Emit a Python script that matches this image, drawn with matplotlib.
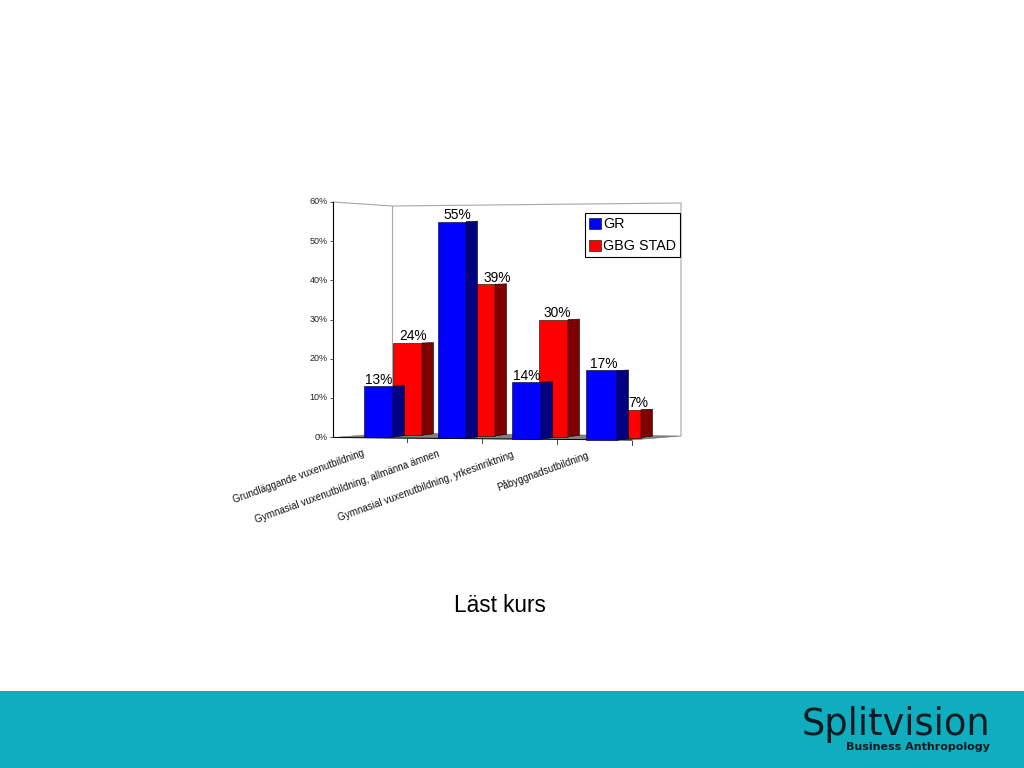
"""Grouped pseudo-3D bar chart on a slide with a teal footer and logo."""

import numpy as np
import matplotlib.pyplot as plt
from matplotlib.patches import Patch, Rectangle
from matplotlib.transforms import ScaledTranslation

plt.rcParams['font.family'] = ['Liberation Sans', 'DejaVu Sans']

categories = ['Grundläggande vuxenutbildning',
              'Gymnasial vuxenutbildning, allmänna ämnen',
              'Gymnasial vuxenutbildning, yrkesinriktning',
              'Påbyggnadsutbildning']
gr_values = [13, 55, 14, 17]
gbg_values = [24, 39, 30, 7]
y_ticks = [0, 10, 20, 30, 40, 50, 60]
series_names = ['GR', 'GBG STAD']
chart_title = 'Läst kurs'

W, H = 1024, 768
PX_PER_PCT = 235 / 60
PX_PER_CAT = 75
TICK_X0 = 407

# perspective: how far each bar foot sinks below the 0% line, in pixels
gr_drop = [0.0, 1.3, 2.0, 3.2]
gbg_drop = [-1.8, -1.2, -0.3, 0.5]
# front face widths grow a little towards the right, in pixels
gr_width = [29, 28, 29, 31]
gbg_width = [29, 29, 29, 29]
# label shift to the right of the front face centre, in pixels
gr_shift = [0.5, 5, 0, 3.5]
gbg_shift = [5.5, 16.5, 3.5, 12]


def ypx(py):
    """Convert a picture row to percent on the chart axis."""
    return (437 - py) / PX_PER_PCT


def xpx(px):
    """Convert a picture column to category units on the chart axis."""
    return (px - TICK_X0) / PX_PER_CAT


def draw_series(ax, left, values, drop, widths, front, side, order):
    """Draw the front faces with bar() and the side faces as polygons."""
    values = np.array(values, dtype=float)
    foot = -np.array(drop) / PX_PER_PCT
    width = np.array(widths) / PX_PER_CAT
    depth = 11.5 / PX_PER_CAT
    ax.bar(left, values - foot, width=width, bottom=foot, align='edge',
           color=front, edgecolor='black', linewidth=0.4, zorder=order)
    for x_right, value, y_foot in zip(left + width, values, foot):
        ax.fill([x_right, x_right + depth, x_right + depth, x_right],
                [value, value + 0.1, y_foot + 0.35, y_foot],
                facecolor=side, edgecolor='black', linewidth=0.4,
                zorder=order)


def add_labels(ax, left, values, shift, order):
    """Write the percent labels just above the bars."""
    for x_left, value, dx in zip(left, values, shift):
        x_mid = x_left + (14.5 + dx) / PX_PER_CAT
        ax.text(x_mid, value + 2.5 / PX_PER_PCT, f'{value}%', ha='center',
                va='baseline', fontsize=9.9, color='black', zorder=order)


fig = plt.figure(figsize=(W / 100, H / 100), dpi=100, facecolor='white')

# whole slide background in pixel coordinates
bg = fig.add_axes([0, 0, 1, 1])
bg.set_xlim(0, W)
bg.set_ylim(H, 0)
bg.axis('off')
bg.add_patch(Rectangle((0, 691), W, 77, facecolor='#10ADBE', edgecolor='none'))
bg.text(500, 606, chart_title, ha='center', va='center', fontsize=16.3)
bg.text(802, 735, 'Splitvision', ha='left', va='baseline', fontsize=26.5,
        family='DejaVu Sans', color='#0a1a22')
bg.text(990, 749.5, 'Business Anthropology', ha='right', va='baseline',
        fontsize=8, fontweight='bold', family='DejaVu Sans', color='#0a1a22')

# chart axes: y is percent, x is category number
ax = fig.add_axes([333 / W, 1 - 446 / H, 348 / W, 244 / H])
ax.set_xlim(xpx(333), xpx(681))
ax.set_ylim(ypx(446), ypx(202))
ax.patch.set_alpha(0)
for spine in ax.spines.values():
    spine.set_visible(False)

wall_color = '#a8a8a8'
ax.plot([xpx(333), xpx(392), xpx(681), xpx(681)],
        [ypx(202), ypx(206), ypx(203), ypx(436)],
        color=wall_color, lw=0.8, zorder=1, clip_on=False)
ax.plot([xpx(392), xpx(392)], [ypx(206), ypx(434)],
        color=wall_color, lw=0.8, zorder=1)
ax.fill([xpx(333), xpx(392), xpx(681), xpx(632)],
        [ypx(437.5), ypx(433), ypx(436), ypx(440)],
        facecolor='#808080', edgecolor='#707070', lw=0.4, zorder=1)
ax.plot([xpx(333), xpx(632)], [ypx(437.5), ypx(440)], color='black', lw=0.7,
        zorder=2)

# y axis line with its ticks
ax.plot([xpx(333), xpx(333)], [0, 60], color='black', lw=0.8, zorder=2,
        clip_on=False)
ax.set_yticks(y_ticks)
ax.set_yticklabels([f'{t}%' for t in y_ticks], fontsize=6.5, color='#222222')
ax.tick_params(axis='y', length=2.5, width=0.6, pad=1.5, color='#333333')
nudge_up = ScaledTranslation(0, 1 / 100, fig.dpi_scale_trans)
for tick_label in ax.get_yticklabels():
    tick_label.set_transform(tick_label.get_transform() + nudge_up)

# category ticks follow the sloping floor edge
groups = np.arange(len(categories))
ax.set_xticks([])
for i in groups:
    tick_top = 438 + i * 0.9
    ax.plot([i, i], [ypx(tick_top), ypx(tick_top + 4)], color='#444444',
            lw=0.7, zorder=2)
    ax.annotate(categories[i], xy=(i, 0), xycoords='data',
                xytext=(-42 * 0.72, -19 * 0.72 - i * 0.5),
                textcoords='offset points', rotation=20, ha='right',
                va='baseline', rotation_mode='anchor', fontsize=7.1,
                color='#111111', annotation_clip=False)

gr_left = groups * 74 / PX_PER_CAT + xpx(364)
gbg_left = groups * 73 / PX_PER_CAT + xpx(393)

draw_series(ax, gbg_left, gbg_values, gbg_drop, gbg_width, '#FF0000',
            '#800000', 3)
draw_series(ax, gr_left, gr_values, gr_drop, gr_width, '#0000FF', '#000080', 4)
add_labels(ax, gbg_left, gbg_values, gbg_shift, 5)
add_labels(ax, gr_left, gr_values, gr_shift, 5)

handles = [Patch(facecolor='#0000FF', edgecolor='black', linewidth=0.4),
           Patch(facecolor='#FF0000', edgecolor='black', linewidth=0.4)]
legend = fig.legend(handles, series_names, loc='upper left',
                    bbox_to_anchor=(585 / W, 1 - 213 / H),
                    borderaxespad=0, fontsize=10.3, fancybox=False,
                    edgecolor='black', framealpha=1, handlelength=0.8,
                    handleheight=0.8, handletextpad=0.15, borderpad=0.3,
                    labelspacing=0.55)
legend.get_frame().set_linewidth(0.8)
legend.set_zorder(10)

plt.savefig('out.png', dpi=100)
